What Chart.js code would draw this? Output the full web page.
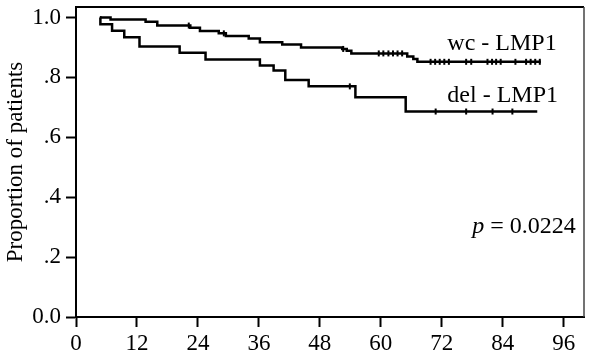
<!DOCTYPE html>
<html>
<head>
<meta charset="utf-8">
<script src="https://cdn.jsdelivr.net/npm/chart.js@4.4.0/dist/chart.umd.min.js"></script>
<style>
  body { margin: 0; background: #fff; }
</style>
</head>
<body>
<canvas id="kmChart" width="590" height="360"></canvas>
<script>
// axis ticks
let xTicks = [0, 12, 24, 36, 48, 60, 72, 84, 96];
let yTicks = [0, 0.2, 0.4, 0.6, 0.8, 1.0];
let yTickLabels = ['0.0', '.2', '.4', '.6', '.8', '1.0'];

// wc - LMP1 : step times (months) and survival after each step
let wcTime = [4.7, 6.8, 13.7, 16.0, 22.5, 24.4, 28.1, 29.5, 34.0, 36.2, 40.6, 44.3, 52.4, 53.3, 54.2, 65.2, 66.4, 67.2, 91.5];
let wcSurv = [1.0, 0.993, 0.986, 0.973, 0.966, 0.955, 0.947, 0.938, 0.930, 0.917, 0.910, 0.900, 0.895, 0.889, 0.880, 0.870, 0.861, 0.852, 0.852];
let wcCensor = [22.2, 29.1, 52.6, 59.6, 60.5, 61.5, 62.4, 63.3, 64.2, 69.8, 70.7, 71.6, 72.5, 73.4, 76.8, 77.8, 81.0, 81.9, 82.7, 83.6, 86.5, 88.6, 89.5, 90.4, 91.3];

// del - LMP1
let delTime = [4.7, 4.8, 7.1, 9.5, 12.5, 20.4, 25.5, 36.2, 38.9, 41.2, 45.8, 55.0, 64.9, 90.8];
let delSurv = [1.0, 0.977, 0.956, 0.934, 0.903, 0.882, 0.860, 0.840, 0.823, 0.791, 0.770, 0.734, 0.686, 0.686];
let delCensor = [53.9, 70.8, 76.8, 82.0, 85.9];

function survAt(times, surv, t) {
  let s = surv[0];
  for (let i = 0; i < times.length; i++) {
    if (times[i] <= t) s = surv[i];
  }
  return s;
}

function steps(times, surv) {
  return times.map((t, i) => ({ x: t, y: surv[i] }));
}

function censors(list, times, surv) {
  return list.map(t => ({ x: t, y: survAt(times, surv, t) }));
}

let serif = "'Liberation Serif', 'Times New Roman', serif";

let lineStyle = {
  borderColor: '#000',
  borderWidth: 2.5,
  pointRadius: 0,
  stepped: 'before',
  fill: false
};
let tickStyle = {
  showLine: false,
  pointStyle: 'line',
  rotation: 90,
  pointRadius: 3,
  borderColor: '#000',
  pointBorderWidth: 2
};

// frame + text labels
let extras = {
  id: 'extras',
  afterDraw(chart) {
    let ctx = chart.ctx;
    let a = chart.chartArea;
    let x = chart.scales.x, y = chart.scales.y;
    ctx.save();
    ctx.strokeStyle = '#000';
    ctx.lineWidth = 2;
    ctx.beginPath();
    ctx.moveTo(a.left, a.top);
    ctx.lineTo(a.right, a.top);
    ctx.stroke();
    ctx.lineWidth = 1.5;
    ctx.strokeStyle = '#444';
    ctx.beginPath();
    ctx.moveTo(a.right, a.top);
    ctx.lineTo(a.right, a.bottom);
    ctx.stroke();

    ctx.fillStyle = '#000';
    ctx.textBaseline = 'alphabetic';
    ctx.font = '24px ' + serif;
    ctx.fillText('wc - LMP1', x.getPixelForValue(73.1), y.getPixelForValue(0.893));
    ctx.fillText('del - LMP1', x.getPixelForValue(73.1), y.getPixelForValue(0.717));

    let px = x.getPixelForValue(78.0), py = y.getPixelForValue(0.28);
    ctx.font = 'italic 24px ' + serif;
    ctx.fillText('p', px, py);
    let w = ctx.measureText('p').width;
    ctx.font = '24px ' + serif;
    ctx.fillText(' = 0.0224', px + w, py);
    ctx.restore();
  }
};

function noPad(s) {
  s.paddingTop = 0;
  s.paddingBottom = 0;
  s.paddingLeft = 0;
  s.paddingRight = 0;
}

let ctx = document.getElementById('kmChart').getContext('2d');
let kmChart = new Chart(ctx, {
  type: 'line',
  data: {
    datasets: [
      Object.assign({ label: 'wc - LMP1', data: steps(wcTime, wcSurv) }, lineStyle),
      Object.assign({ label: 'del - LMP1', data: steps(delTime, delSurv) }, lineStyle),
      Object.assign({ label: 'wc censored', data: censors(wcCensor, wcTime, wcSurv) }, tickStyle),
      Object.assign({ label: 'del censored', data: censors(delCensor, delTime, delSurv) }, tickStyle)
    ]
  },
  options: {
    responsive: false,
    animation: false,
    layout: { padding: { top: 7, right: 6, left: 0, bottom: 0 } },
    plugins: {
      legend: { display: false },
      tooltip: { enabled: false }
    },
    scales: {
      x: {
        type: 'linear',
        min: 0,
        max: 100,
        afterBuildTicks: s => { s.ticks = xTicks.map(v => ({ value: v })); },
        afterFit: s => { s.height = 43; noPad(s); },
        grid: { drawOnChartArea: false, tickLength: 10, tickWidth: 2, tickColor: '#000' },
        border: { color: '#000', width: 2 },
        ticks: { color: '#000', padding: 3, maxRotation: 0, font: { family: serif, size: 23 } }
      },
      y: {
        type: 'linear',
        min: 0,
        max: 1.035,
        afterBuildTicks: s => { s.ticks = yTicks.map(v => ({ value: v })); },
        afterFit: s => { s.width = 76; noPad(s); },
        grid: { drawOnChartArea: false, tickLength: 10, tickWidth: 2, tickColor: '#000' },
        border: { color: '#000', width: 2 },
        ticks: {
          color: '#000',
          padding: 5,
          font: { family: serif, size: 23 },
          callback: (v, i) => yTickLabels[i]
        },
        title: {
          display: true,
          text: 'Proportion of patients',
          color: '#000',
          padding: { top: 2, bottom: 0 },
          font: { family: serif, size: 23 }
        }
      }
    }
  },
  plugins: [extras]
});
</script>
</body>
</html>
